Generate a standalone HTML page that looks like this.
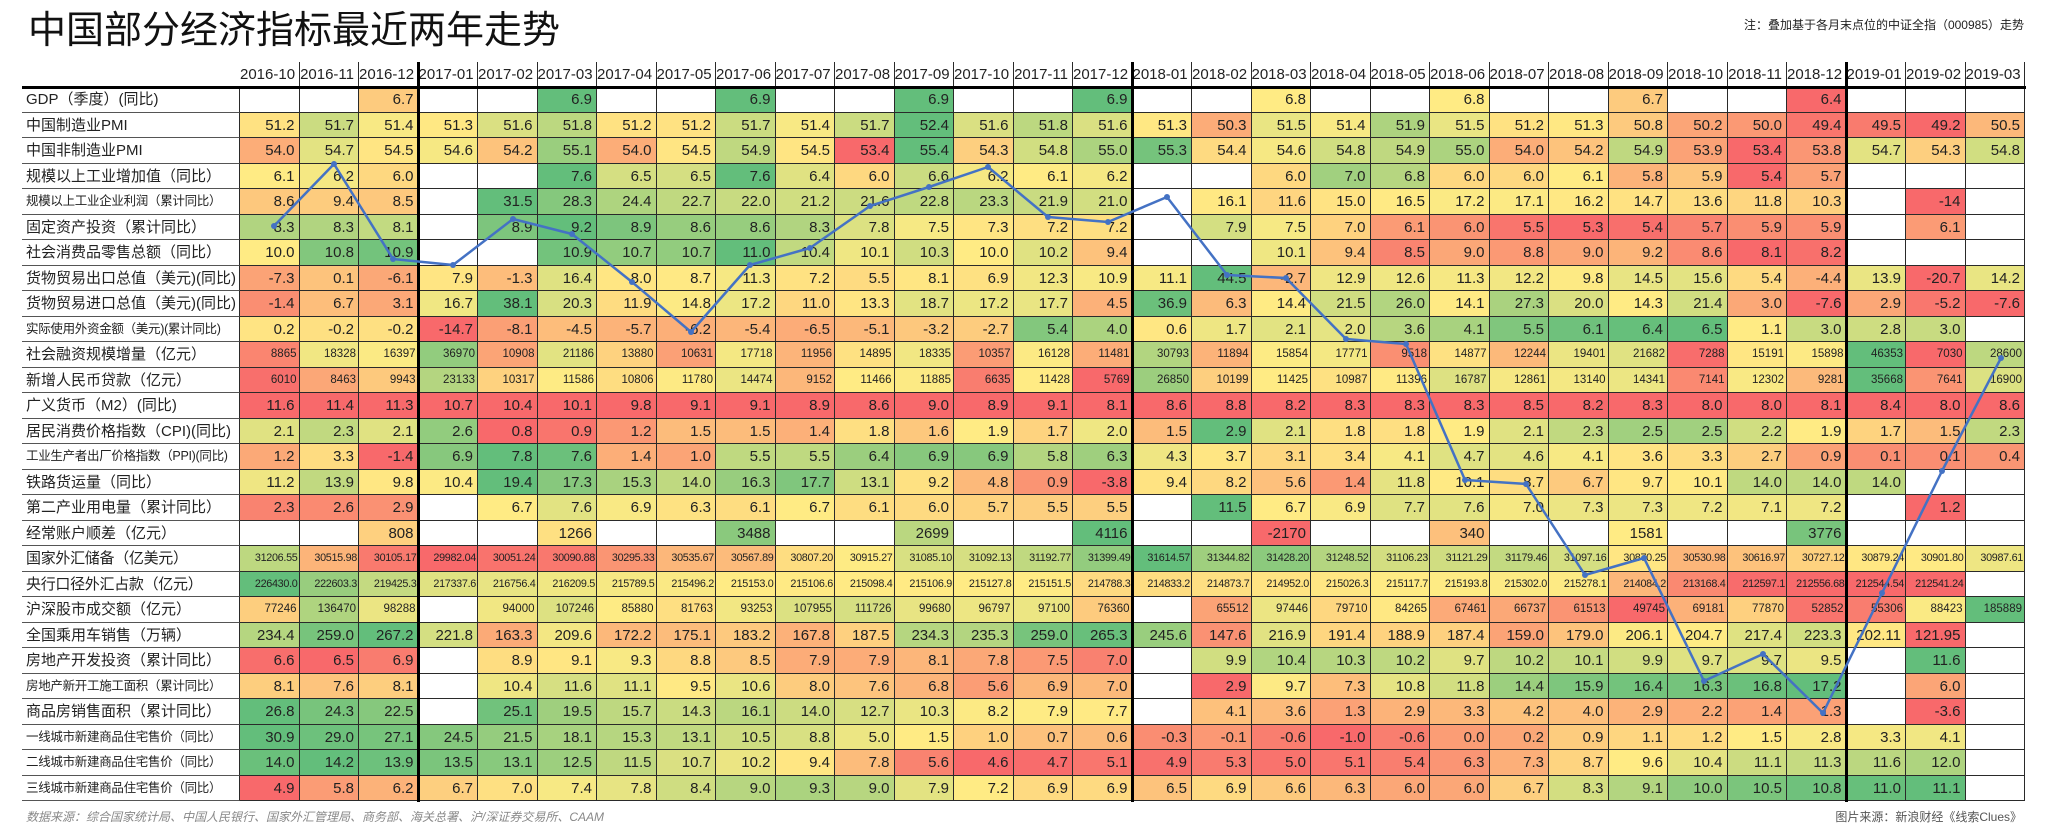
<!DOCTYPE html>
<html><head><meta charset="utf-8">
<style>
body{margin:0;width:2048px;height:832px;background:#fff;position:relative;overflow:hidden;font-family:"Liberation Sans","Noto Sans CJK SC",sans-serif;color:#222}
.title{position:absolute;left:28px;top:0px;font-size:38px;line-height:54px;font-family:"Noto Sans CJK SC",sans-serif;color:#111}
.note{position:absolute;right:24px;top:16px;font-size:12px;font-family:"Liberation Sans","Noto Sans CJK SC",sans-serif;color:#222}
.foot{position:absolute;left:26px;top:808px;font-size:12px;font-style:italic;color:#888;font-family:"Liberation Sans","Noto Sans CJK SC",sans-serif}
.foot2{position:absolute;right:26px;top:808px;font-size:12px;color:#555;font-family:"Liberation Sans","Noto Sans CJK SC",sans-serif}
.g{position:absolute;left:22px;top:62px;display:grid;grid-template-columns:218px repeat(30,59.5px);grid-template-rows:25px repeat(28,25.5px)}
.r{display:contents}
.g div{box-sizing:border-box}
.h div{border-right:1px solid #777;font-size:12px;text-align:center;line-height:25px}
.h div:first-child{border-right:1px solid #777}
.r div{border-right:1px solid #2a2a2a;border-bottom:1px solid #2a2a2a;text-align:right;padding-right:4px;font-size:15px;line-height:25px;white-space:nowrap;overflow:hidden}
.r div:first-child{text-align:left;padding-left:4px;border-right:1px solid #2a2a2a;border-bottom:1px solid #555;font-size:15px;font-family:"Liberation Sans","Noto Sans CJK SC",sans-serif}
.r div.s{font-size:12.5px!important;letter-spacing:-0.3px}
.sm div{font-size:11.5px;padding-right:2px}
.xs div{font-size:10.8px;padding-right:1px;letter-spacing:-0.3px}
.tv{position:absolute;top:62px;width:3px;height:740px;background:#000}
.th{position:absolute;left:22px;top:86px;width:2004px;height:3px;background:#000}
svg{position:absolute;left:0;top:0}
</style></head><body>
<div class="title">中国部分经济指标最近两年走势</div>
<div class="note">注：叠加基于各月末点位的中证全指（000985）走势</div>
<div class="g">
<div class="r h"><div style="border-right:none"></div><div>2016-10</div><div>2016-11</div><div>2016-12</div><div>2017-01</div><div>2017-02</div><div>2017-03</div><div>2017-04</div><div>2017-05</div><div>2017-06</div><div>2017-07</div><div>2017-08</div><div>2017-09</div><div>2017-10</div><div>2017-11</div><div>2017-12</div><div>2018-01</div><div>2018-02</div><div>2018-03</div><div>2018-04</div><div>2018-05</div><div>2018-06</div><div>2018-07</div><div>2018-08</div><div>2018-09</div><div>2018-10</div><div>2018-11</div><div>2018-12</div><div>2019-01</div><div>2019-02</div><div>2019-03</div></div>
<div class="r"><div>GDP（季度）(同比)</div><div></div><div></div><div>6.7</div><div></div><div></div><div>6.9</div><div></div><div></div><div>6.9</div><div></div><div></div><div>6.9</div><div></div><div></div><div>6.9</div><div></div><div></div><div>6.8</div><div></div><div></div><div>6.8</div><div></div><div></div><div>6.7</div><div></div><div></div><div>6.4</div><div></div><div></div><div></div></div>
<div class="r"><div>中国制造业PMI</div><div>51.2</div><div>51.7</div><div>51.4</div><div>51.3</div><div>51.6</div><div>51.8</div><div>51.2</div><div>51.2</div><div>51.7</div><div>51.4</div><div>51.7</div><div>52.4</div><div>51.6</div><div>51.8</div><div>51.6</div><div>51.3</div><div>50.3</div><div>51.5</div><div>51.4</div><div>51.9</div><div>51.5</div><div>51.2</div><div>51.3</div><div>50.8</div><div>50.2</div><div>50.0</div><div>49.4</div><div>49.5</div><div>49.2</div><div>50.5</div></div>
<div class="r"><div>中国非制造业PMI</div><div>54.0</div><div>54.7</div><div>54.5</div><div>54.6</div><div>54.2</div><div>55.1</div><div>54.0</div><div>54.5</div><div>54.9</div><div>54.5</div><div>53.4</div><div>55.4</div><div>54.3</div><div>54.8</div><div>55.0</div><div>55.3</div><div>54.4</div><div>54.6</div><div>54.8</div><div>54.9</div><div>55.0</div><div>54.0</div><div>54.2</div><div>54.9</div><div>53.9</div><div>53.4</div><div>53.8</div><div>54.7</div><div>54.3</div><div>54.8</div></div>
<div class="r"><div>规模以上工业增加值（同比）</div><div>6.1</div><div>6.2</div><div>6.0</div><div></div><div></div><div>7.6</div><div>6.5</div><div>6.5</div><div>7.6</div><div>6.4</div><div>6.0</div><div>6.6</div><div>6.2</div><div>6.1</div><div>6.2</div><div></div><div></div><div>6.0</div><div>7.0</div><div>6.8</div><div>6.0</div><div>6.0</div><div>6.1</div><div>5.8</div><div>5.9</div><div>5.4</div><div>5.7</div><div></div><div></div><div></div></div>
<div class="r"><div class="s">规模以上工业企业利润（累计同比）</div><div>8.6</div><div>9.4</div><div>8.5</div><div></div><div>31.5</div><div>28.3</div><div>24.4</div><div>22.7</div><div>22.0</div><div>21.2</div><div>21.6</div><div>22.8</div><div>23.3</div><div>21.9</div><div>21.0</div><div></div><div>16.1</div><div>11.6</div><div>15.0</div><div>16.5</div><div>17.2</div><div>17.1</div><div>16.2</div><div>14.7</div><div>13.6</div><div>11.8</div><div>10.3</div><div></div><div>-14</div><div></div></div>
<div class="r"><div>固定资产投资（累计同比）</div><div>8.3</div><div>8.3</div><div>8.1</div><div></div><div>8.9</div><div>9.2</div><div>8.9</div><div>8.6</div><div>8.6</div><div>8.3</div><div>7.8</div><div>7.5</div><div>7.3</div><div>7.2</div><div>7.2</div><div></div><div>7.9</div><div>7.5</div><div>7.0</div><div>6.1</div><div>6.0</div><div>5.5</div><div>5.3</div><div>5.4</div><div>5.7</div><div>5.9</div><div>5.9</div><div></div><div>6.1</div><div></div></div>
<div class="r"><div>社会消费品零售总额（同比）</div><div>10.0</div><div>10.8</div><div>10.9</div><div></div><div></div><div>10.9</div><div>10.7</div><div>10.7</div><div>11.0</div><div>10.4</div><div>10.1</div><div>10.3</div><div>10.0</div><div>10.2</div><div>9.4</div><div></div><div></div><div>10.1</div><div>9.4</div><div>8.5</div><div>9.0</div><div>8.8</div><div>9.0</div><div>9.2</div><div>8.6</div><div>8.1</div><div>8.2</div><div></div><div></div><div></div></div>
<div class="r"><div>货物贸易出口总值（美元)(同比)</div><div>-7.3</div><div>0.1</div><div>-6.1</div><div>7.9</div><div>-1.3</div><div>16.4</div><div>8.0</div><div>8.7</div><div>11.3</div><div>7.2</div><div>5.5</div><div>8.1</div><div>6.9</div><div>12.3</div><div>10.9</div><div>11.1</div><div>44.5</div><div>-2.7</div><div>12.9</div><div>12.6</div><div>11.3</div><div>12.2</div><div>9.8</div><div>14.5</div><div>15.6</div><div>5.4</div><div>-4.4</div><div>13.9</div><div>-20.7</div><div>14.2</div></div>
<div class="r"><div>货物贸易进口总值（美元)(同比)</div><div>-1.4</div><div>6.7</div><div>3.1</div><div>16.7</div><div>38.1</div><div>20.3</div><div>11.9</div><div>14.8</div><div>17.2</div><div>11.0</div><div>13.3</div><div>18.7</div><div>17.2</div><div>17.7</div><div>4.5</div><div>36.9</div><div>6.3</div><div>14.4</div><div>21.5</div><div>26.0</div><div>14.1</div><div>27.3</div><div>20.0</div><div>14.3</div><div>21.4</div><div>3.0</div><div>-7.6</div><div>2.9</div><div>-5.2</div><div>-7.6</div></div>
<div class="r"><div class="s">实际使用外资金额（美元)(累计同比)</div><div>0.2</div><div>-0.2</div><div>-0.2</div><div>-14.7</div><div>-8.1</div><div>-4.5</div><div>-5.7</div><div>-6.2</div><div>-5.4</div><div>-6.5</div><div>-5.1</div><div>-3.2</div><div>-2.7</div><div>5.4</div><div>4.0</div><div>0.6</div><div>1.7</div><div>2.1</div><div>2.0</div><div>3.6</div><div>4.1</div><div>5.5</div><div>6.1</div><div>6.4</div><div>6.5</div><div>1.1</div><div>3.0</div><div>2.8</div><div>3.0</div><div></div></div>
<div class="r sm"><div>社会融资规模增量（亿元）</div><div>8865</div><div>18328</div><div>16397</div><div>36970</div><div>10908</div><div>21186</div><div>13880</div><div>10631</div><div>17718</div><div>11956</div><div>14895</div><div>18335</div><div>10357</div><div>16128</div><div>11481</div><div>30793</div><div>11894</div><div>15854</div><div>17771</div><div>9518</div><div>14877</div><div>12244</div><div>19401</div><div>21682</div><div>7288</div><div>15191</div><div>15898</div><div>46353</div><div>7030</div><div>28600</div></div>
<div class="r sm"><div>新增人民币贷款（亿元）</div><div>6010</div><div>8463</div><div>9943</div><div>23133</div><div>10317</div><div>11586</div><div>10806</div><div>11780</div><div>14474</div><div>9152</div><div>11466</div><div>11885</div><div>6635</div><div>11428</div><div>5769</div><div>26850</div><div>10199</div><div>11425</div><div>10987</div><div>11396</div><div>16787</div><div>12861</div><div>13140</div><div>14341</div><div>7141</div><div>12302</div><div>9281</div><div>35668</div><div>7641</div><div>16900</div></div>
<div class="r red"><div>广义货币（M2）(同比)</div><div>11.6</div><div>11.4</div><div>11.3</div><div>10.7</div><div>10.4</div><div>10.1</div><div>9.8</div><div>9.1</div><div>9.1</div><div>8.9</div><div>8.6</div><div>9.0</div><div>8.9</div><div>9.1</div><div>8.1</div><div>8.6</div><div>8.8</div><div>8.2</div><div>8.3</div><div>8.3</div><div>8.3</div><div>8.5</div><div>8.2</div><div>8.3</div><div>8.0</div><div>8.0</div><div>8.1</div><div>8.4</div><div>8.0</div><div>8.6</div></div>
<div class="r"><div>居民消费价格指数（CPI)(同比)</div><div>2.1</div><div>2.3</div><div>2.1</div><div>2.6</div><div>0.8</div><div>0.9</div><div>1.2</div><div>1.5</div><div>1.5</div><div>1.4</div><div>1.8</div><div>1.6</div><div>1.9</div><div>1.7</div><div>2.0</div><div>1.5</div><div>2.9</div><div>2.1</div><div>1.8</div><div>1.8</div><div>1.9</div><div>2.1</div><div>2.3</div><div>2.5</div><div>2.5</div><div>2.2</div><div>1.9</div><div>1.7</div><div>1.5</div><div>2.3</div></div>
<div class="r"><div class="s">工业生产者出厂价格指数（PPI)(同比)</div><div>1.2</div><div>3.3</div><div>-1.4</div><div>6.9</div><div>7.8</div><div>7.6</div><div>1.4</div><div>1.0</div><div>5.5</div><div>5.5</div><div>6.4</div><div>6.9</div><div>6.9</div><div>5.8</div><div>6.3</div><div>4.3</div><div>3.7</div><div>3.1</div><div>3.4</div><div>4.1</div><div>4.7</div><div>4.6</div><div>4.1</div><div>3.6</div><div>3.3</div><div>2.7</div><div>0.9</div><div>0.1</div><div>0.1</div><div>0.4</div></div>
<div class="r"><div>铁路货运量（同比）</div><div>11.2</div><div>13.9</div><div>9.8</div><div>10.4</div><div>19.4</div><div>17.3</div><div>15.3</div><div>14.0</div><div>16.3</div><div>17.7</div><div>13.1</div><div>9.2</div><div>4.8</div><div>0.9</div><div>-3.8</div><div>9.4</div><div>8.2</div><div>5.6</div><div>1.4</div><div>11.8</div><div>10.1</div><div>8.7</div><div>6.7</div><div>9.7</div><div>10.1</div><div>14.0</div><div>14.0</div><div>14.0</div><div></div><div></div></div>
<div class="r"><div>第二产业用电量（累计同比）</div><div>2.3</div><div>2.6</div><div>2.9</div><div></div><div>6.7</div><div>7.6</div><div>6.9</div><div>6.3</div><div>6.1</div><div>6.7</div><div>6.1</div><div>6.0</div><div>5.7</div><div>5.5</div><div>5.5</div><div></div><div>11.5</div><div>6.7</div><div>6.9</div><div>7.7</div><div>7.6</div><div>7.0</div><div>7.3</div><div>7.3</div><div>7.2</div><div>7.1</div><div>7.2</div><div></div><div>1.2</div><div></div></div>
<div class="r"><div>经常账户顺差（亿元）</div><div></div><div></div><div>808</div><div></div><div></div><div>1266</div><div></div><div></div><div>3488</div><div></div><div></div><div>2699</div><div></div><div></div><div>4116</div><div></div><div></div><div>-2170</div><div></div><div></div><div>340</div><div></div><div></div><div>1581</div><div></div><div></div><div>3776</div><div></div><div></div><div></div></div>
<div class="r xs"><div>国家外汇储备（亿美元）</div><div>31206.55</div><div>30515.98</div><div>30105.17</div><div>29982.04</div><div>30051.24</div><div>30090.88</div><div>30295.33</div><div>30535.67</div><div>30567.89</div><div>30807.20</div><div>30915.27</div><div>31085.10</div><div>31092.13</div><div>31192.77</div><div>31399.49</div><div>31614.57</div><div>31344.82</div><div>31428.20</div><div>31248.52</div><div>31106.23</div><div>31121.29</div><div>31179.46</div><div>31097.16</div><div>30870.25</div><div>30530.98</div><div>30616.97</div><div>30727.12</div><div>30879.24</div><div>30901.80</div><div>30987.61</div></div>
<div class="r xs"><div>央行口径外汇占款（亿元）</div><div>226430.0</div><div>222603.3</div><div>219425.3</div><div>217337.6</div><div>216756.4</div><div>216209.5</div><div>215789.5</div><div>215496.2</div><div>215153.0</div><div>215106.6</div><div>215098.4</div><div>215106.9</div><div>215127.8</div><div>215151.5</div><div>214788.3</div><div>214833.2</div><div>214873.7</div><div>214952.0</div><div>215026.3</div><div>215117.7</div><div>215193.8</div><div>215302.0</div><div>215278.1</div><div>214084.2</div><div>213168.4</div><div>212597.1</div><div>212556.68</div><div>212544.54</div><div>212541.24</div><div></div></div>
<div class="r sm"><div>沪深股市成交额（亿元）</div><div>77246</div><div>136470</div><div>98288</div><div></div><div>94000</div><div>107246</div><div>85880</div><div>81763</div><div>93253</div><div>107955</div><div>111726</div><div>99680</div><div>96797</div><div>97100</div><div>76360</div><div></div><div>65512</div><div>97446</div><div>79710</div><div>84265</div><div>67461</div><div>66737</div><div>61513</div><div>49745</div><div>69181</div><div>77870</div><div>52852</div><div>55306</div><div>88423</div><div>185889</div></div>
<div class="r"><div>全国乘用车销售（万辆）</div><div>234.4</div><div>259.0</div><div>267.2</div><div>221.8</div><div>163.3</div><div>209.6</div><div>172.2</div><div>175.1</div><div>183.2</div><div>167.8</div><div>187.5</div><div>234.3</div><div>235.3</div><div>259.0</div><div>265.3</div><div>245.6</div><div>147.6</div><div>216.9</div><div>191.4</div><div>188.9</div><div>187.4</div><div>159.0</div><div>179.0</div><div>206.1</div><div>204.7</div><div>217.4</div><div>223.3</div><div>202.11</div><div>121.95</div><div></div></div>
<div class="r"><div>房地产开发投资（累计同比）</div><div>6.6</div><div>6.5</div><div>6.9</div><div></div><div>8.9</div><div>9.1</div><div>9.3</div><div>8.8</div><div>8.5</div><div>7.9</div><div>7.9</div><div>8.1</div><div>7.8</div><div>7.5</div><div>7.0</div><div></div><div>9.9</div><div>10.4</div><div>10.3</div><div>10.2</div><div>9.7</div><div>10.2</div><div>10.1</div><div>9.9</div><div>9.7</div><div>9.7</div><div>9.5</div><div></div><div>11.6</div><div></div></div>
<div class="r"><div class="s">房地产新开工施工面积（累计同比）</div><div>8.1</div><div>7.6</div><div>8.1</div><div></div><div>10.4</div><div>11.6</div><div>11.1</div><div>9.5</div><div>10.6</div><div>8.0</div><div>7.6</div><div>6.8</div><div>5.6</div><div>6.9</div><div>7.0</div><div></div><div>2.9</div><div>9.7</div><div>7.3</div><div>10.8</div><div>11.8</div><div>14.4</div><div>15.9</div><div>16.4</div><div>16.3</div><div>16.8</div><div>17.2</div><div></div><div>6.0</div><div></div></div>
<div class="r"><div>商品房销售面积（累计同比）</div><div>26.8</div><div>24.3</div><div>22.5</div><div></div><div>25.1</div><div>19.5</div><div>15.7</div><div>14.3</div><div>16.1</div><div>14.0</div><div>12.7</div><div>10.3</div><div>8.2</div><div>7.9</div><div>7.7</div><div></div><div>4.1</div><div>3.6</div><div>1.3</div><div>2.9</div><div>3.3</div><div>4.2</div><div>4.0</div><div>2.9</div><div>2.2</div><div>1.4</div><div>1.3</div><div></div><div>-3.6</div><div></div></div>
<div class="r"><div class="s">一线城市新建商品住宅售价（同比）</div><div>30.9</div><div>29.0</div><div>27.1</div><div>24.5</div><div>21.5</div><div>18.1</div><div>15.3</div><div>13.1</div><div>10.5</div><div>8.8</div><div>5.0</div><div>1.5</div><div>1.0</div><div>0.7</div><div>0.6</div><div>-0.3</div><div>-0.1</div><div>-0.6</div><div>-1.0</div><div>-0.6</div><div>0.0</div><div>0.2</div><div>0.9</div><div>1.1</div><div>1.2</div><div>1.5</div><div>2.8</div><div>3.3</div><div>4.1</div><div></div></div>
<div class="r"><div class="s">二线城市新建商品住宅售价（同比）</div><div>14.0</div><div>14.2</div><div>13.9</div><div>13.5</div><div>13.1</div><div>12.5</div><div>11.5</div><div>10.7</div><div>10.2</div><div>9.4</div><div>7.8</div><div>5.6</div><div>4.6</div><div>4.7</div><div>5.1</div><div>4.9</div><div>5.3</div><div>5.0</div><div>5.1</div><div>5.4</div><div>6.3</div><div>7.3</div><div>8.7</div><div>9.6</div><div>10.4</div><div>11.1</div><div>11.3</div><div>11.6</div><div>12.0</div><div></div></div>
<div class="r"><div class="s">三线城市新建商品住宅售价（同比）</div><div>4.9</div><div>5.8</div><div>6.2</div><div>6.7</div><div>7.0</div><div>7.4</div><div>7.8</div><div>8.4</div><div>9.0</div><div>9.3</div><div>9.0</div><div>7.9</div><div>7.2</div><div>6.9</div><div>6.9</div><div>6.5</div><div>6.9</div><div>6.6</div><div>6.3</div><div>6.0</div><div>6.0</div><div>6.7</div><div>8.3</div><div>9.1</div><div>10.0</div><div>10.5</div><div>10.8</div><div>11.0</div><div>11.1</div><div></div></div>
</div>
<div class="th"></div>
<div class="tv" style="left:417px"></div>
<div class="tv" style="left:1131px"></div>
<div class="tv" style="left:1845px"></div>
<svg width="2048" height="832" viewBox="0 0 2048 832">
<polyline fill="none" stroke="#4472C4" stroke-width="2.5" stroke-linejoin="round" points="274,226 334,164 393,259 453,265 513,219 572,234 632,282 691,332 750,265 810,248 870,206 929,187 988,167 1048,217 1108,222 1167,197 1227,275 1286,278 1346,339 1406,344 1465,480 1526,484 1585,575 1644,558 1704,681 1763,654 1823,713 1882,593 1942,471 2001,358"/>
<g fill="#4472C4"><circle cx="274" cy="226" r="3"/><circle cx="334" cy="164" r="3"/><circle cx="393" cy="259" r="3"/><circle cx="453" cy="265" r="3"/><circle cx="513" cy="219" r="3"/><circle cx="572" cy="234" r="3"/><circle cx="632" cy="282" r="3"/><circle cx="691" cy="332" r="3"/><circle cx="750" cy="265" r="3"/><circle cx="810" cy="248" r="3"/><circle cx="870" cy="206" r="3"/><circle cx="929" cy="187" r="3"/><circle cx="988" cy="167" r="3"/><circle cx="1048" cy="217" r="3"/><circle cx="1108" cy="222" r="3"/><circle cx="1167" cy="197" r="3"/><circle cx="1227" cy="275" r="3"/><circle cx="1286" cy="278" r="3"/><circle cx="1346" cy="339" r="3"/><circle cx="1406" cy="344" r="3"/><circle cx="1465" cy="480" r="3"/><circle cx="1526" cy="484" r="3"/><circle cx="1585" cy="575" r="3"/><circle cx="1644" cy="558" r="3"/><circle cx="1704" cy="681" r="3"/><circle cx="1763" cy="654" r="3"/><circle cx="1823" cy="713" r="3"/><circle cx="1882" cy="593" r="3"/><circle cx="1942" cy="471" r="3"/><circle cx="2001" cy="358" r="3"/></g>
</svg>
<div class="foot">数据来源：综合国家统计局、中国人民银行、国家外汇管理局、商务部、海关总署、沪/深证券交易所、CAAM</div>
<div class="foot2">图片来源：新浪财经《线索Clues》</div>
<script>
(function(){
var R=[248,105,107],Y=[255,235,132],G=[99,190,123];
function lerp(a,b,t){t=Math.max(0,Math.min(1,t));return a.map(function(v,i){return Math.round(v+(b[i]-v)*t);});}
document.querySelectorAll('.r:not(.h)').forEach(function(r){
var cells=Array.prototype.slice.call(r.children,1).filter(function(c){return c.textContent.trim()!=='';});
var v=cells.map(function(c){return parseFloat(c.textContent);});
var s=v.slice().sort(function(a,b){return a-b;});var n=s.length;if(!n)return;
var p=(n-1)*0.5,f=Math.floor(p),med=s[f]+(s[Math.ceil(p)]-s[f])*(p-f),mn=s[0],mx=s[n-1];
cells.forEach(function(c,i){var x=v[i],col;
if(r.classList.contains('red'))col=R;
else if(x<=med)col=lerp(R,Y,med===mn?1:(x-mn)/(med-mn));
else col=lerp(Y,G,mx===med?1:(x-med)/(mx-med));
c.style.background='rgb('+col.join(',')+')';});
});
})();
</script>
</body></html>
